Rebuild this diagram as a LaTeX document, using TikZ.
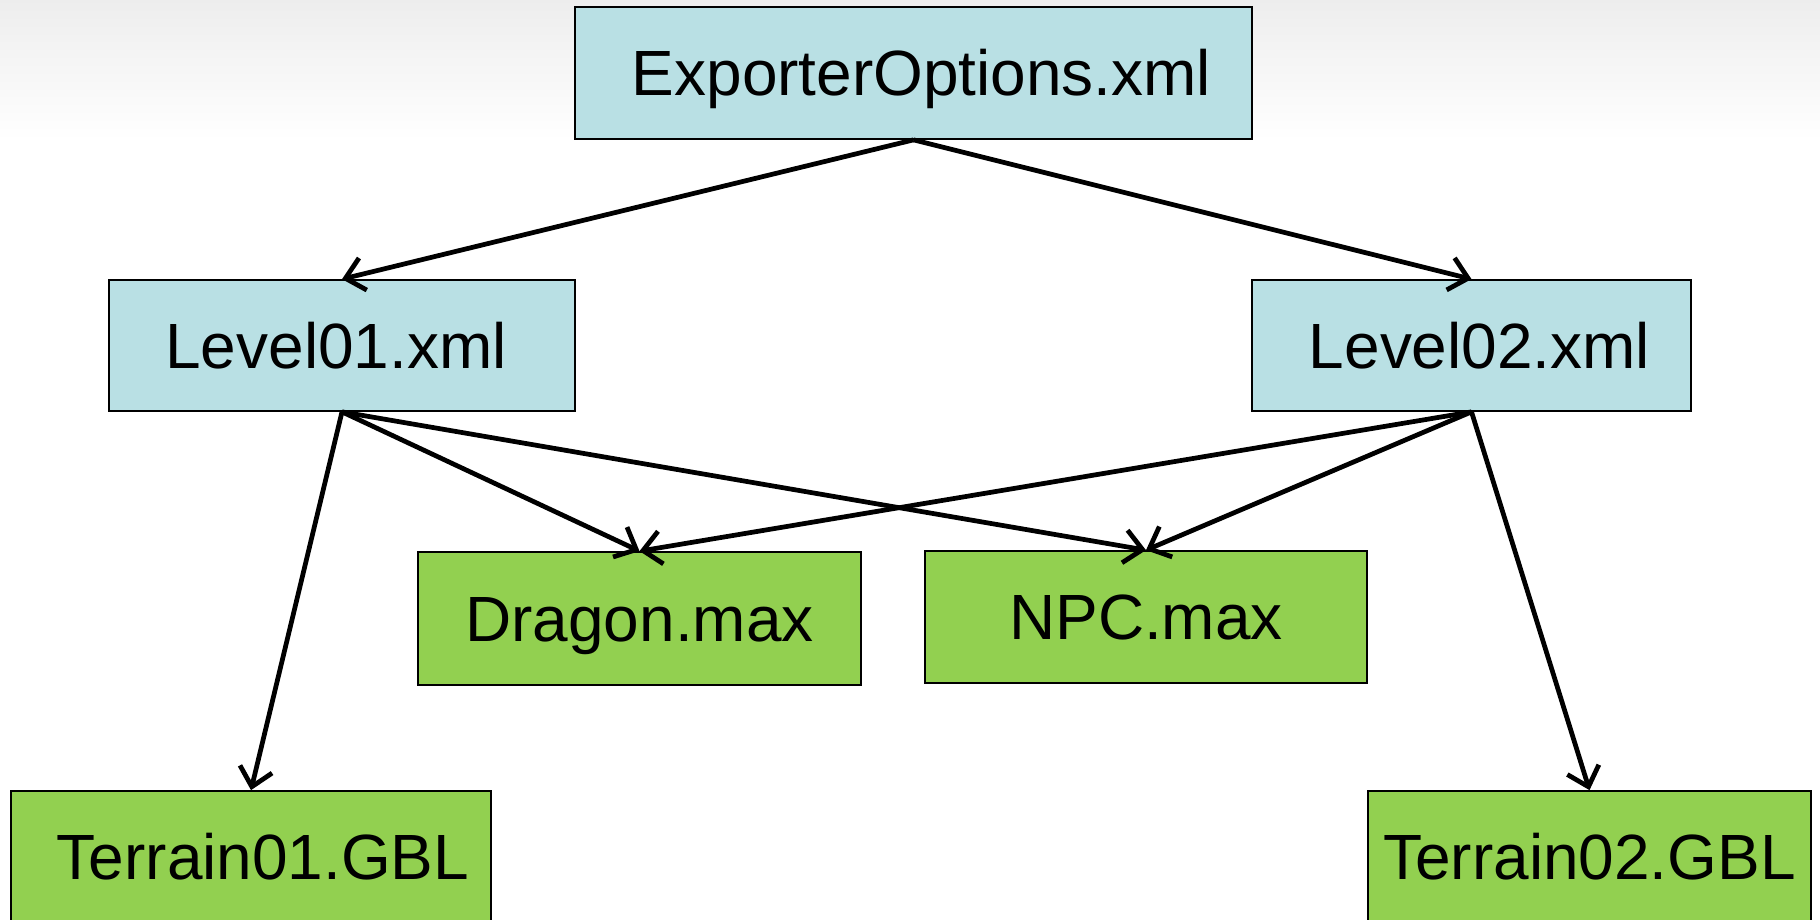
\documentclass[tikz,border=0pt]{standalone}
\usepackage{fontspec}
\setmainfont{Liberation Sans}
\usetikzlibrary{arrows.meta}

\definecolor{xmlblue}{RGB}{185,224,228}
\definecolor{maxgreen}{RGB}{146,208,80}

\begin{document}
\begin{tikzpicture}[x=0.02cm,y=-0.02cm,>={Straight Barb[length=0.36cm,width=0.66cm]},
  file/.style={draw,line width=1pt,inner sep=0pt,text height=26pt,text depth=0pt,
    font=\fontsize{36.4}{40}\selectfont},
  xmlfile/.style={file,fill=xmlblue},
  maxfile/.style={file,fill=maxgreen},
  link/.style={->,line width=2.7pt}]
  \useasboundingbox (0,0) rectangle (1820,920);
  \clip (0,0) rectangle (1820,920);
  % Faint background at the top
  \shade[top color=gray!14,bottom color=white] (0,0) rectangle (1820,140);
  % Option files
  \node[xmlfile,minimum width=13.54cm,minimum height=2.64cm] (exp) at (913.5,73) {\hspace*{0.32cm}ExporterOptions.xml};
  \node[xmlfile,minimum width=9.32cm,minimum height=2.62cm] (lvl1) at (342,345.5) {Level01.xml\hspace*{0.24cm}};
  \node[xmlfile,minimum width=8.78cm,minimum height=2.62cm] (lvl2) at (1471.5,345.5) {\hspace*{0.32cm}Level02.xml};
  % Asset files
  \node[maxfile,minimum width=8.86cm,minimum height=2.66cm] (dragon) at (639.5,618.5) {Dragon.max};
  \node[maxfile,minimum width=8.84cm,minimum height=2.64cm] (npc) at (1146,617) {NPC.max};
  \node[maxfile,minimum width=9.6cm,minimum height=2.64cm] (ter1) at (251,857) {\hspace*{0.48cm}Terrain01.GBL};
  \node[maxfile,minimum width=8.86cm,minimum height=2.64cm] (ter2) at (1589.5,857) {Terrain02.GBL};
  % Links
  \draw[link] (exp.south) -- (lvl1.north);
  \draw[link] (exp.south) -- (lvl2.north);
  \foreach \t in {ter1,dragon,npc}
    \draw[link] (lvl1.south) -- (\t.north);
  \foreach \t in {dragon,npc,ter2}
    \draw[link] (lvl2.south) -- (\t.north);
\end{tikzpicture}
\end{document}
